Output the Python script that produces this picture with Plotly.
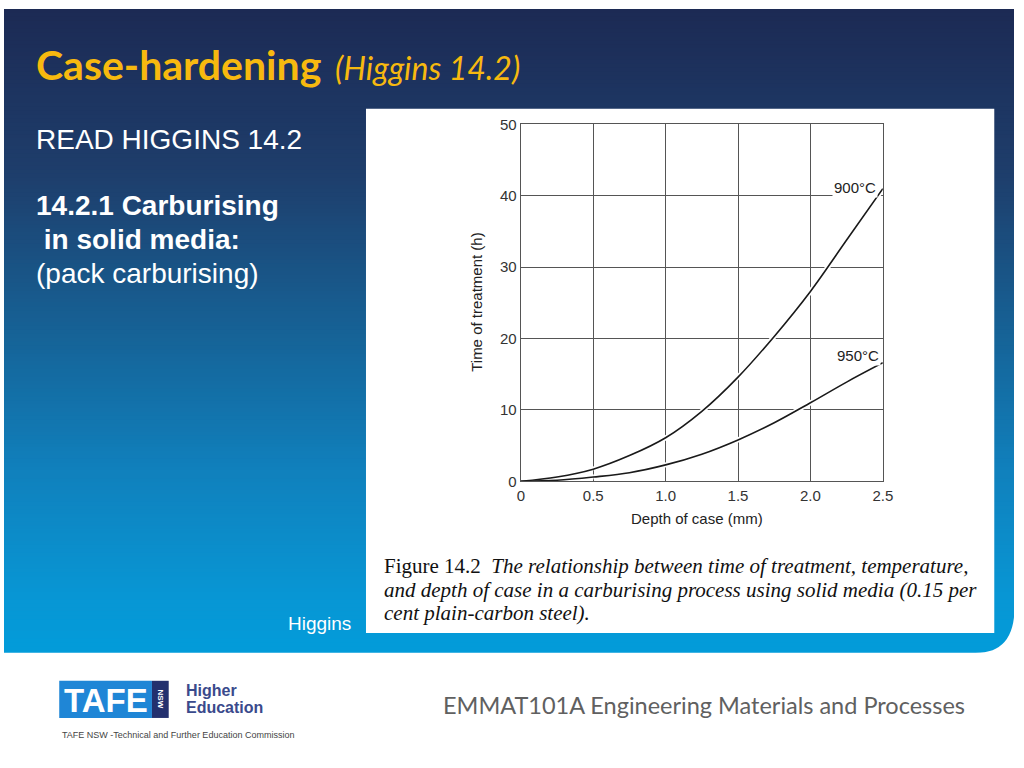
#!/usr/bin/env python3
"""
Case-hardening slide: carburising time vs depth of case (Higgins fig 14.2).
"""

import plotly.graph_objects as go

W, H = 1024, 768

# data
depth_mm = [0, 0.25, 0.5, 0.75, 1.0, 1.25, 1.5, 1.75, 2.0, 2.25, 2.5]
time_900 = [0, 0.6, 1.7, 3.6, 6.1, 9.8, 14.6, 20.3, 26.6, 33.8, 41.0]
time_950 = [0, 0.15, 0.6, 1.2, 2.3, 3.8, 5.8, 8.2, 11.0, 13.9, 16.6]
x_ticks = [0, 0.5, 1.0, 1.5, 2.0, 2.5]
x_ticklabels = ['0', '0.5', '1.0', '1.5', '2.0', '2.5']
y_ticks = [0, 10, 20, 30, 40, 50]


def px(x):
    return x / W


def py(y):
    return 1 - y / H


def lerp_color(y):
    stops = [(0, (28, 42, 84)), (170, (30, 62, 108)), (330, (22, 98, 150)),
             (470, (16, 128, 188)), (600, (8, 150, 212)), (660, (2, 156, 218))]
    for (y0, c0), (y1, c1) in zip(stops, stops[1:]):
        if y0 <= y <= y1:
            t = (y - y0) / (y1 - y0)
            return 'rgb(%d,%d,%d)' % tuple(round(a + (b - a) * t) for a, b in zip(c0, c1))
    return 'rgb(2,156,218)'


shapes = []
# slide background gradient (bands overlap a little to hide seams)
step = 4
for y in range(0, 658, step):
    shapes.append(dict(type='rect', xref='paper', yref='paper', layer='below',
                       x0=0, x1=1, y0=py(min(y + step + 2, 658)), y1=py(y),
                       fillcolor=lerp_color(y + step / 2), line_width=0))
# rounded bottom-right corner of the blue band
shapes.append(dict(type='path', xref='paper', yref='paper', layer='below',
                   path='M %f %f Q %f %f %f %f L %f %f Z' % (
                       px(985), py(658.5), px(1024.5), py(658.5), px(1024.5), py(612),
                       px(1024.5), py(658.5)),
                   fillcolor='white', line_width=0))
# white panel behind the figure
shapes.append(dict(type='rect', xref='paper', yref='paper', layer='below',
                   x0=px(367), x1=px(1004), y0=py(638), y1=py(102),
                   fillcolor='white', line_width=0))
# TAFE logo blocks
shapes.append(dict(type='rect', xref='paper', yref='paper', layer='below',
                   x0=px(56), x1=px(150), y0=py(725), y1=py(687),
                   fillcolor='#1f86d6', line_width=0))
shapes.append(dict(type='rect', xref='paper', yref='paper', layer='below',
                   x0=px(150), x1=px(167), y0=py(725), y1=py(687),
                   fillcolor='#23306e', line_width=0))

fig = go.Figure()

for ys, name in [(time_900, '900°C'), (time_950, '950°C')]:
    # white halo breaks the grid where the curve crosses it
    fig.add_trace(go.Scatter(x=depth_mm[2:], y=ys[2:], mode='lines', line_shape='spline',
                             line=dict(color='white', width=5), hoverinfo='skip',
                             showlegend=False))
    fig.add_trace(go.Scatter(x=depth_mm, y=ys, mode='lines', line_shape='spline',
                             line=dict(color='#1a1a1a', width=1.6), name=name,
                             showlegend=False))

axis_font = dict(family='Liberation Sans, Arial, sans-serif', size=15, color='#333')

fig.update_xaxes(domain=[px(524), px(891)], range=[0, 2.5], tickvals=x_ticks,
                 ticktext=x_ticklabels, showgrid=True, gridcolor='#555', gridwidth=1.4,
                 showline=True, linecolor='#555', linewidth=1.4, mirror=True,
                 zeroline=False, ticks='', tickfont=axis_font)
fig.update_yaxes(domain=[py(483), py(118)], range=[0, 50], tickvals=y_ticks,
                 showgrid=True, gridcolor='#555', gridwidth=1.4,
                 showline=True, linecolor='#555', linewidth=1.4, mirror=True,
                 zeroline=False, ticks='', tickfont=axis_font)

sans = 'Liberation Sans, Arial, sans-serif'
ann = []


def text(x, y, s, size, color, family=sans, xanchor='left', **kw):
    ann.append(dict(x=px(x), y=py(y), xref='paper', yref='paper', text=s,
                    showarrow=False, xanchor=xanchor, yanchor='middle',
                    font=dict(family=family, size=size, color=color), **kw))


# title
text(30, 57, '<b>Case-hardening</b>', 41, '#f7b90f', family='Lato, sans-serif')
text(334, 60, '<i>(Higgins 14.2)</i>', 32, '#f7b90f', family='Lato, sans-serif')

# body text
text(30, 133, 'READ HIGGINS 14.2', 28, 'white')
text(30, 201, '<b>14.2.1 Carburising</b>', 28, 'white')
text(30, 236, '<b> in solid media:</b>', 28, 'white')
text(30, 270, '(pack carburising)', 28, 'white')
text(354, 628, 'Higgins', 19, 'white', xanchor='right')

# chart labels
ann.append(dict(x=2.31, y=41.2, xref='x', yref='y', text='900°C', showarrow=False,
                bgcolor='white', borderpad=1, font=dict(family=sans, size=15, color='#222')))
ann.append(dict(x=2.33, y=17.6, xref='x', yref='y', text='950°C', showarrow=False,
                bgcolor='white', borderpad=1, font=dict(family=sans, size=15, color='#222')))
text(703, 521, 'Depth of case (mm)', 15, '#222', xanchor='center')
text(479, 300, 'Time of treatment (h)', 15, '#222', xanchor='center', textangle=-90)

# caption
serif = 'Liberation Serif, Times New Roman, serif'
text(383, 570, 'Figure 14.2  <i>The relationship between time of treatment, temperature,</i>',
     21, '#111', family=serif)
text(383, 594, '<i>and depth of case in a carburising process using solid media (0.15 per</i>',
     21, '#111', family=serif)
text(383, 618, '<i>cent plain-carbon steel).</i>', 21, '#111', family=serif)

# footer
text(103, 707, '<b>TAFE</b>', 33, 'white', xanchor='center')
text(159, 706, '<b>NSW</b>', 8, 'white', xanchor='center', textangle=90)
text(183, 697, '<b>Higher</b>', 16, '#3a4a8c')
text(183, 714, '<b>Education</b>', 16, '#3a4a8c')
text(57, 742, 'TAFE NSW -Technical and Further Education Commission', 9, '#444')
text(976, 712, 'EMMAT101A Engineering Materials and Processes', 23.5, '#606060',
     family='Lato, sans-serif', xanchor='right')

fig.update_layout(width=W, height=H, margin=dict(l=0, r=0, t=0, b=0),
                  paper_bgcolor='white', plot_bgcolor='white',
                  shapes=shapes, annotations=ann, showlegend=False)

pin_to_corner = (
    "document.documentElement.style.margin='0';"
    "document.body.style.margin='0';"
    "document.body.style.overflow='hidden';"
    "var gd=document.getElementById('{plot_id}');"
    "gd.style.position='fixed';gd.style.left='0px';gd.style.top='0px';"
)
fig.write_html('out.html', config={'displayModeBar': False}, post_script=pin_to_corner)
